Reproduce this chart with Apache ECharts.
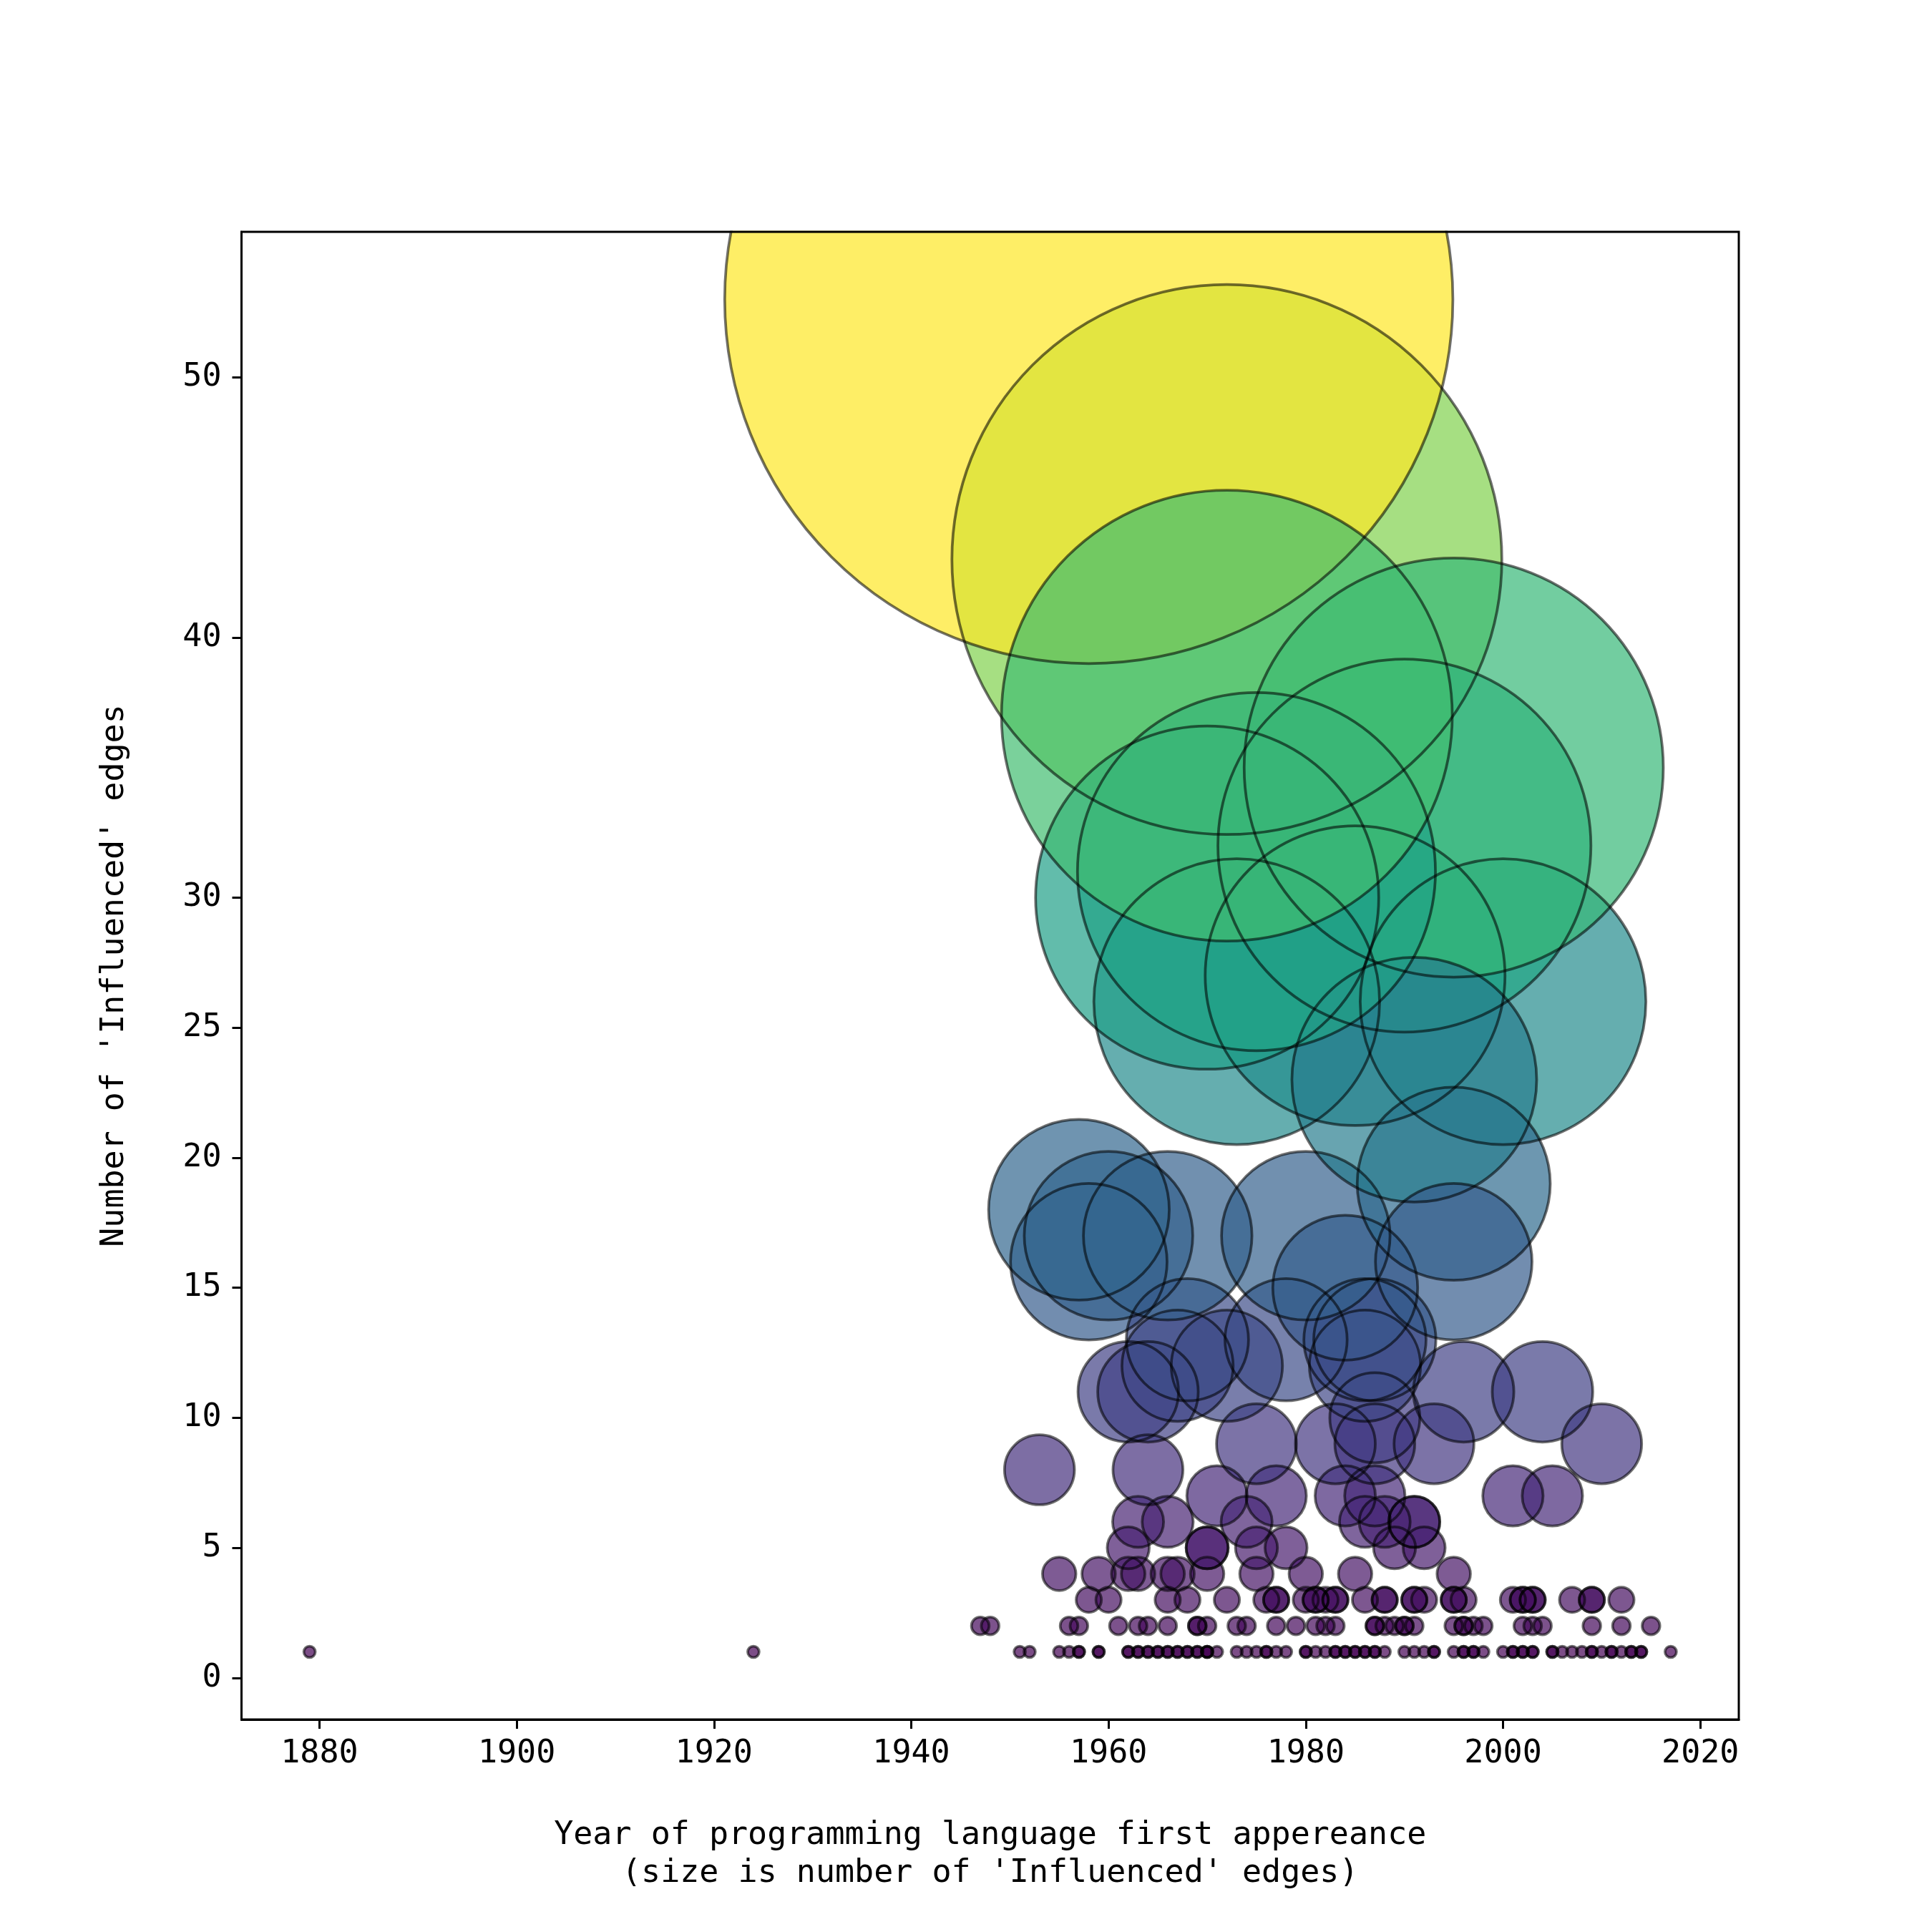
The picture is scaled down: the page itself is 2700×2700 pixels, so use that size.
<!DOCTYPE html>
<html>
<head>
<meta charset="utf-8">
<title>Influenced edges by first appearance</title>
<script src="https://cdn.jsdelivr.net/npm/echarts@6/dist/echarts.min.js"></script>
<style>
  html, body { margin: 0; padding: 0; background: #fff; }
  #chart { width: 2700px; height: 2700px; }
</style>
</head>
<body>
<div id="chart"></div>
<script>
// year of first appearance, one entry per language, grouped by edge count
const yearsOne = [1879, 1924, 1951, 1952, 1955, 1956, 1957, 1957, 1959, 1959, 1962, 1962,
    1963, 1963, 1964, 1964, 1965, 1965, 1966, 1966, 1967, 1967, 1968, 1968, 1969, 1969,
    1970, 1970, 1970, 1971, 1973, 1974, 1975, 1976, 1976, 1977, 1978, 1980, 1980, 1981,
    1982, 1983, 1983, 1984, 1984, 1985, 1985, 1986, 1986, 1987, 1987, 1988, 1990, 1991,
    1992, 1993, 1993, 1995, 1996, 1996, 1997, 1997, 1998, 2000, 2001, 2001, 2002, 2002,
    2003, 2003, 2005, 2005, 2006, 2007, 2008, 2009, 2009, 2010, 2011, 2011, 2012, 2013,
    2013, 2014, 2014, 2017];
const yearsTwo = [1947, 1948, 1956, 1957, 1961, 1963, 1964, 1966, 1969, 1969, 1970, 1973,
    1974, 1977, 1979, 1981, 1982, 1983, 1987, 1987, 1988, 1989, 1990, 1990, 1991, 1995,
    1996, 1996, 1997, 1998, 2002, 2003, 2004, 2009, 2012, 2015];
const yearsThree = [1958, 1960, 1966, 1968, 1972, 1976, 1977, 1977, 1980, 1981, 1981, 1982,
    1983, 1983, 1986, 1988, 1988, 1991, 1991, 1992, 1995, 1995, 1996, 2001, 2002, 2002,
    2003, 2003, 2007, 2009, 2009, 2012];
const yearsFour = [1955, 1959, 1962, 1963, 1966, 1967, 1970, 1975, 1980, 1985, 1995];

// languages with 5 or more edges (drawn after the small ones, in this order)
const biggerYears = [1962, 1970, 1970, 1975, 1978, 1989, 1992,
    1963, 1966, 1974, 1986, 1988, 1991, 1991,
    1971, 1977, 1984, 1987, 2001, 2005,
    1953, 1964,
    1975, 1983, 1987, 1993, 2010,
    1987,
    1962, 1964, 1996, 2004,
    1967, 1972, 1986,
    1978, 1986, 1987,
    1984,
    1958, 1960, 1968, 1966, 1980, 1972, 2000, 1985, 1957, 1990, 1995, 1995,
    1958, 1973, 1970, 1991, 1995, 1975, 1972];
const biggerEdges = [5, 5, 5, 5, 5, 5, 5,
    6, 6, 6, 6, 6, 6, 6,
    7, 7, 7, 7, 7, 7,
    8, 8,
    9, 9, 9, 9, 9,
    10,
    11, 11, 11, 11,
    12, 12, 12,
    13, 13, 13,
    15,
    16, 17, 13, 17, 17, 43, 26, 27, 18, 32, 35, 19,
    53, 26, 30, 23, 16, 31, 37];

const xTicks = [1880, 1900, 1920, 1940, 1960, 1980, 2000, 2020];
const yTicks = [0, 5, 10, 15, 20, 25, 30, 40, 50];

const viridis = ['#440154', '#471365', '#482475', '#453781', '#414487', '#3b528b',
    '#355f8d', '#2f6c8e', '#2a788e', '#25848e', '#21918c', '#1f9e89', '#22a884',
    '#35b779', '#44bf70', '#5ec962', '#7ad151', '#9fda3a', '#bddf26', '#dfe318', '#fde725'];

const FONT = '"DejaVu Sans Mono", monospace';
const DPI_SCALE = 270 / 72;   // points -> pixels

// marker area in pt^2 grows with the edge count
function markerSize(edges) {
    const area = 10 + 7.66 * edges * edges + 0.35 * edges * edges * edges;
    return Math.sqrt(area) * DPI_SCALE;
}

const points = [];
[[yearsOne, 1], [yearsTwo, 2], [yearsThree, 3], [yearsFour, 4]].forEach(([years, edges]) => {
    years.forEach(y => points.push([y, edges]));
});
biggerYears.forEach((y, i) => points.push([y, biggerEdges[i]]));

// matplotlib style 5% margins around the data
const xs = points.map(p => p[0]);
const ys = points.map(p => p[1]);
const xLo = Math.min(...xs), xHi = Math.max(...xs);
const yLo = Math.min(...ys), yHi = Math.max(...ys);
const xPad = (xHi - xLo) * 0.05, yPad = (yHi - yLo) * 0.05;

const grid = { left: 337.5, right: 270, top: 324, bottom: 297 };
const plotW = 2700 - grid.left - grid.right;
const plotH = 2700 - grid.top - grid.bottom;

const chart = echarts.init(document.getElementById('chart'), null, { renderer: 'canvas' });

chart.setOption({
    backgroundColor: '#fff',
    animation: false,
    grid: grid,
    xAxis: {
        type: 'value',
        min: xLo - xPad,
        max: xHi + xPad,
        name: "Year of programming language first appereance\n(size is number of 'Influenced' edges)",
        nameLocation: 'middle',
        nameGap: 136,
        nameTextStyle: { fontFamily: FONT, fontSize: 45, color: '#000', lineHeight: 53 },
        axisLine: { show: true, onZero: false, lineStyle: { color: '#000', width: 3 } },
        axisTick: { show: true, length: 13, customValues: xTicks, lineStyle: { color: '#000', width: 3 } },
        axisLabel: {
            customValues: xTicks, margin: 26, fontFamily: FONT, fontSize: 45, color: '#000',
            formatter: v => String(v)
        },
        splitLine: { show: false }
    },
    yAxis: {
        type: 'value',
        min: yLo - yPad,
        max: yHi + yPad,
        name: "Number of 'Influenced' edges",
        nameLocation: 'middle',
        nameGap: 155,
        nameTextStyle: { fontFamily: FONT, fontSize: 45, color: '#000' },
        axisLine: { show: true, onZero: false, lineStyle: { color: '#000', width: 3 } },
        axisTick: { show: true, length: 13, customValues: yTicks, lineStyle: { color: '#000', width: 3 } },
        axisLabel: {
            customValues: yTicks, margin: 28, fontFamily: FONT, fontSize: 45, color: '#000',
            formatter: v => String(v)
        },
        splitLine: { show: false }
    },
    visualMap: {
        show: false,
        type: 'continuous',
        seriesIndex: 0,
        dimension: 1,
        min: yLo,
        max: yHi,
        inRange: { color: viridis }
    },
    series: [{
        // faces
        type: 'scatter',
        data: points,
        symbol: 'circle',
        symbolSize: val => markerSize(val[1]),
        itemStyle: { opacity: 0.7, borderWidth: 0 },
        emphasis: { disabled: true },
        silent: true,
        z: 2
    }, {
        // edges, stroked over all faces
        type: 'scatter',
        data: points,
        symbol: 'circle',
        symbolSize: val => markerSize(val[1]),
        itemStyle: { color: 'rgba(0,0,0,0)', borderColor: 'rgba(0,0,0,0.7)', borderWidth: 3.75 },
        emphasis: { disabled: true },
        silent: true,
        z: 3
    }],
    graphic: [
        // clip what spills above the axes, then redraw the frame
        { type: 'rect', z: 100, shape: { x: 0, y: 0, width: 2700, height: grid.top - 1.5 },
          style: { fill: '#fff' }, silent: true },
        { type: 'rect', z: 101, shape: { x: grid.left, y: grid.top, width: plotW, height: plotH },
          style: { fill: 'none', stroke: '#000', lineWidth: 3 }, silent: true }
    ]
});
</script>
</body>
</html>
